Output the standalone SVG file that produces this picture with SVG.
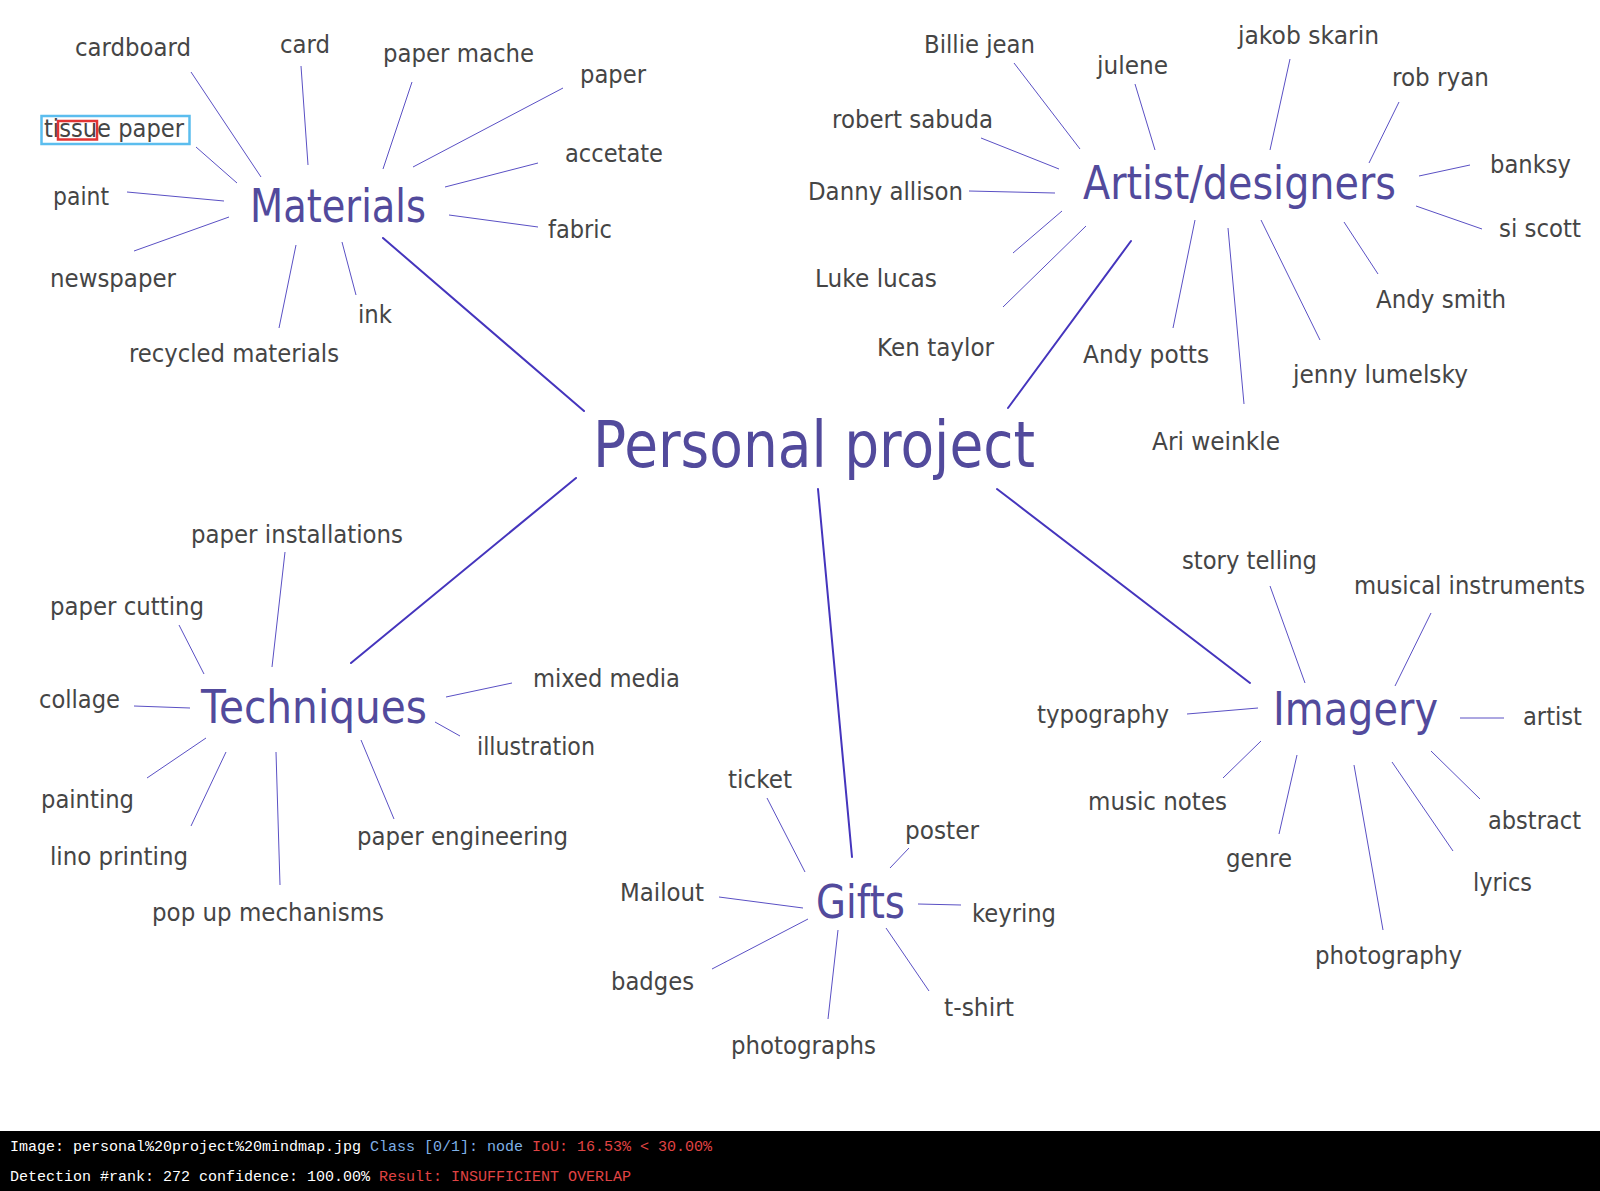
<svg xmlns="http://www.w3.org/2000/svg" width="1600" height="1191" viewBox="0 0 1600 1191">
  <style>
    .lbl { font-family: "DejaVu Sans", "Liberation Sans", sans-serif; font-size: 24px; fill: #454545; }
    .hub { font-family: "DejaVu Sans", "Liberation Sans", sans-serif; font-size: 46px; fill: #524a9c; }
    .root { font-family: "DejaVu Sans", "Liberation Sans", sans-serif; font-size: 64px; fill: #524a9c; }
    .trunk line { stroke: #4535bd; stroke-width: 2; stroke-linecap: round; }
    .spoke line { stroke: #5a50c4; stroke-width: 1; }
    .mono { font-family: "Liberation Mono", "DejaVu Sans Mono", monospace; font-size: 15px; fill: #ffffff; }
  </style>
  <rect width="1600" height="1191" fill="#ffffff"/>

  <!-- connectors -->
  <g id="connectors">
    <g class="trunk">
      <line x1="383" y1="238" x2="584" y2="411"/>
      <line x1="1131" y1="241" x2="1008" y2="408"/>
      <line x1="576" y1="478" x2="351" y2="663"/>
      <line x1="818" y1="489" x2="852" y2="857"/>
      <line x1="997" y1="489" x2="1250" y2="683"/>
    </g>
    <g class="spoke">
      <!-- Materials -->
      <line x1="191" y1="72" x2="261" y2="177"/>
      <line x1="301" y1="66" x2="308" y2="165"/>
      <line x1="412" y1="82" x2="383" y2="169"/>
      <line x1="563" y1="88" x2="413" y2="167"/>
      <line x1="196" y1="147" x2="237" y2="183"/>
      <line x1="538" y1="163" x2="445" y2="187"/>
      <line x1="127" y1="192" x2="224" y2="201"/>
      <line x1="449" y1="215" x2="538" y2="227"/>
      <line x1="134" y1="251" x2="229" y2="217"/>
      <line x1="296" y1="245" x2="279" y2="328"/>
      <line x1="342" y1="242" x2="356" y2="295"/>
      <!-- Artist/designers -->
      <line x1="1014" y1="63" x2="1080" y2="149"/>
      <line x1="1135" y1="84" x2="1155" y2="150"/>
      <line x1="1290" y1="59" x2="1270" y2="150"/>
      <line x1="1399" y1="102" x2="1369" y2="163"/>
      <line x1="981" y1="138" x2="1059" y2="169"/>
      <line x1="1470" y1="165" x2="1419" y2="176"/>
      <line x1="969" y1="191" x2="1055" y2="193"/>
      <line x1="1416" y1="206" x2="1482" y2="229"/>
      <line x1="1062" y1="211" x2="1013" y2="253"/>
      <line x1="1086" y1="226" x2="1003" y2="307"/>
      <line x1="1195" y1="220" x2="1173" y2="328"/>
      <line x1="1228" y1="228" x2="1244" y2="404"/>
      <line x1="1261" y1="220" x2="1320" y2="340"/>
      <line x1="1344" y1="222" x2="1378" y2="274"/>
      <!-- Techniques -->
      <line x1="285" y1="552" x2="272" y2="667"/>
      <line x1="179" y1="625" x2="204" y2="674"/>
      <line x1="134" y1="706" x2="190" y2="708"/>
      <line x1="512" y1="683" x2="446" y2="697"/>
      <line x1="435" y1="722" x2="460" y2="736"/>
      <line x1="147" y1="778" x2="206" y2="738"/>
      <line x1="191" y1="826" x2="226" y2="752"/>
      <line x1="276" y1="752" x2="280" y2="885"/>
      <line x1="361" y1="740" x2="394" y2="819"/>
      <!-- Imagery -->
      <line x1="1270" y1="586" x2="1305" y2="683"/>
      <line x1="1431" y1="613" x2="1395" y2="686"/>
      <line x1="1187" y1="714" x2="1258" y2="708"/>
      <line x1="1460" y1="718" x2="1504" y2="718"/>
      <line x1="1261" y1="741" x2="1223" y2="778"/>
      <line x1="1297" y1="755" x2="1279" y2="834"/>
      <line x1="1354" y1="765" x2="1383" y2="930"/>
      <line x1="1392" y1="762" x2="1453" y2="851"/>
      <line x1="1431" y1="751" x2="1480" y2="799"/>
      <!-- Gifts -->
      <line x1="767" y1="798" x2="805" y2="872"/>
      <line x1="909" y1="848" x2="890" y2="868"/>
      <line x1="719" y1="897" x2="803" y2="908"/>
      <line x1="918" y1="904" x2="961" y2="905"/>
      <line x1="712" y1="969" x2="808" y2="919"/>
      <line x1="838" y1="930" x2="828" y2="1019"/>
      <line x1="886" y1="928" x2="929" y2="991"/>
    </g>
  </g>

  <!-- root -->
  <g id="personal-project"><text class="root" x="593" y="467" textLength="442" lengthAdjust="spacingAndGlyphs">Personal project</text></g>

  <!-- Materials branch -->
  <g id="materials"><text class="hub" x="250" y="222" textLength="176" lengthAdjust="spacingAndGlyphs">Materials</text></g>
  <g id="cardboard"><text class="lbl" x="75" y="56" textLength="116" lengthAdjust="spacingAndGlyphs">cardboard</text></g>
  <g id="card"><text class="lbl" x="280" y="53" textLength="50" lengthAdjust="spacingAndGlyphs">card</text></g>
  <g id="paper-mache"><text class="lbl" x="383" y="62" textLength="151" lengthAdjust="spacingAndGlyphs">paper mache</text></g>
  <g id="paper"><text class="lbl" x="580" y="83" textLength="66" lengthAdjust="spacingAndGlyphs">paper</text></g>
  <g id="tissue-paper"><text class="lbl" x="44" y="137" textLength="140" lengthAdjust="spacingAndGlyphs">tissue paper</text></g>
  <g id="accetate"><text class="lbl" x="565" y="162" textLength="98" lengthAdjust="spacingAndGlyphs">accetate</text></g>
  <g id="paint"><text class="lbl" x="53" y="205" textLength="56" lengthAdjust="spacingAndGlyphs">paint</text></g>
  <g id="fabric"><text class="lbl" x="548" y="238" textLength="64" lengthAdjust="spacingAndGlyphs">fabric</text></g>
  <g id="newspaper"><text class="lbl" x="50" y="287" textLength="126" lengthAdjust="spacingAndGlyphs">newspaper</text></g>
  <g id="ink"><text class="lbl" x="358" y="323" textLength="34" lengthAdjust="spacingAndGlyphs">ink</text></g>
  <g id="recycled-materials"><text class="lbl" x="129" y="362" textLength="210" lengthAdjust="spacingAndGlyphs">recycled materials</text></g>

  <!-- Artist/designers branch -->
  <g id="artist-designers"><text class="hub" x="1083" y="199" textLength="313" lengthAdjust="spacingAndGlyphs">Artist/designers</text></g>
  <g id="billie-jean"><text class="lbl" x="924" y="53" textLength="111" lengthAdjust="spacingAndGlyphs">Billie jean</text></g>
  <g id="julene"><text class="lbl" x="1097" y="74" textLength="71" lengthAdjust="spacingAndGlyphs">julene</text></g>
  <g id="jakob-skarin"><text class="lbl" x="1238" y="44" textLength="141" lengthAdjust="spacingAndGlyphs">jakob skarin</text></g>
  <g id="rob-ryan"><text class="lbl" x="1392" y="86" textLength="97" lengthAdjust="spacingAndGlyphs">rob ryan</text></g>
  <g id="robert-sabuda"><text class="lbl" x="832" y="128" textLength="161" lengthAdjust="spacingAndGlyphs">robert sabuda</text></g>
  <g id="banksy"><text class="lbl" x="1490" y="173" textLength="81" lengthAdjust="spacingAndGlyphs">banksy</text></g>
  <g id="danny-allison"><text class="lbl" x="808" y="200" textLength="155" lengthAdjust="spacingAndGlyphs">Danny allison</text></g>
  <g id="si-scott"><text class="lbl" x="1499" y="237" textLength="82" lengthAdjust="spacingAndGlyphs">si scott</text></g>
  <g id="luke-lucas"><text class="lbl" x="815" y="287" textLength="122" lengthAdjust="spacingAndGlyphs">Luke lucas</text></g>
  <g id="andy-smith"><text class="lbl" x="1376" y="308" textLength="130" lengthAdjust="spacingAndGlyphs">Andy smith</text></g>
  <g id="ken-taylor"><text class="lbl" x="877" y="356" textLength="117" lengthAdjust="spacingAndGlyphs">Ken taylor</text></g>
  <g id="andy-potts"><text class="lbl" x="1083" y="363" textLength="126" lengthAdjust="spacingAndGlyphs">Andy potts</text></g>
  <g id="jenny-lumelsky"><text class="lbl" x="1293" y="383" textLength="175" lengthAdjust="spacingAndGlyphs">jenny lumelsky</text></g>
  <g id="ari-weinkle"><text class="lbl" x="1152" y="450" textLength="128" lengthAdjust="spacingAndGlyphs">Ari weinkle</text></g>

  <!-- Techniques branch -->
  <g id="techniques"><text class="hub" x="201" y="723" textLength="226" lengthAdjust="spacingAndGlyphs">Techniques</text></g>
  <g id="paper-installations"><text class="lbl" x="191" y="543" textLength="212" lengthAdjust="spacingAndGlyphs">paper installations</text></g>
  <g id="paper-cutting"><text class="lbl" x="50" y="615" textLength="154" lengthAdjust="spacingAndGlyphs">paper cutting</text></g>
  <g id="collage"><text class="lbl" x="39" y="708" textLength="81" lengthAdjust="spacingAndGlyphs">collage</text></g>
  <g id="mixed-media"><text class="lbl" x="533" y="687" textLength="147" lengthAdjust="spacingAndGlyphs">mixed media</text></g>
  <g id="illustration"><text class="lbl" x="477" y="755" textLength="118" lengthAdjust="spacingAndGlyphs">illustration</text></g>
  <g id="painting"><text class="lbl" x="41" y="808" textLength="93" lengthAdjust="spacingAndGlyphs">painting</text></g>
  <g id="paper-engineering"><text class="lbl" x="357" y="845" textLength="211" lengthAdjust="spacingAndGlyphs">paper engineering</text></g>
  <g id="lino-printing"><text class="lbl" x="50" y="865" textLength="138" lengthAdjust="spacingAndGlyphs">lino printing</text></g>
  <g id="pop-up-mechanisms"><text class="lbl" x="152" y="921" textLength="232" lengthAdjust="spacingAndGlyphs">pop up mechanisms</text></g>

  <!-- Imagery branch -->
  <g id="imagery"><text class="hub" x="1273" y="725" textLength="165" lengthAdjust="spacingAndGlyphs">Imagery</text></g>
  <g id="story-telling"><text class="lbl" x="1182" y="569" textLength="135" lengthAdjust="spacingAndGlyphs">story telling</text></g>
  <g id="musical-instruments"><text class="lbl" x="1354" y="594" textLength="231" lengthAdjust="spacingAndGlyphs">musical instruments</text></g>
  <g id="typography"><text class="lbl" x="1037" y="723" textLength="132" lengthAdjust="spacingAndGlyphs">typography</text></g>
  <g id="artist"><text class="lbl" x="1523" y="725" textLength="59" lengthAdjust="spacingAndGlyphs">artist</text></g>
  <g id="music-notes"><text class="lbl" x="1088" y="810" textLength="139" lengthAdjust="spacingAndGlyphs">music notes</text></g>
  <g id="abstract"><text class="lbl" x="1488" y="829" textLength="93" lengthAdjust="spacingAndGlyphs">abstract</text></g>
  <g id="genre"><text class="lbl" x="1226" y="867" textLength="66" lengthAdjust="spacingAndGlyphs">genre</text></g>
  <g id="lyrics"><text class="lbl" x="1473" y="891" textLength="59" lengthAdjust="spacingAndGlyphs">lyrics</text></g>
  <g id="photography"><text class="lbl" x="1315" y="964" textLength="147" lengthAdjust="spacingAndGlyphs">photography</text></g>

  <!-- Gifts branch -->
  <g id="gifts"><text class="hub" x="816" y="918" textLength="89" lengthAdjust="spacingAndGlyphs">Gifts</text></g>
  <g id="ticket"><text class="lbl" x="728" y="788" textLength="64" lengthAdjust="spacingAndGlyphs">ticket</text></g>
  <g id="poster"><text class="lbl" x="905" y="839" textLength="74" lengthAdjust="spacingAndGlyphs">poster</text></g>
  <g id="mailout"><text class="lbl" x="620" y="901" textLength="84" lengthAdjust="spacingAndGlyphs">Mailout</text></g>
  <g id="keyring"><text class="lbl" x="972" y="922" textLength="84" lengthAdjust="spacingAndGlyphs">keyring</text></g>
  <g id="badges"><text class="lbl" x="611" y="990" textLength="83" lengthAdjust="spacingAndGlyphs">badges</text></g>
  <g id="t-shirt"><text class="lbl" x="944" y="1016" textLength="70" lengthAdjust="spacingAndGlyphs">t-shirt</text></g>
  <g id="photographs"><text class="lbl" x="731" y="1054" textLength="145" lengthAdjust="spacingAndGlyphs">photographs</text></g>

  <!-- detection boxes around "tissue paper" -->
  <rect x="41.5" y="116" width="148" height="28" fill="none" stroke="#5bbdee" stroke-width="2.5"/>
  <rect x="58" y="121" width="39" height="18.5" fill="none" stroke="#e23434" stroke-width="2.5"/>

  <!-- status bar -->
  <rect x="0" y="1131" width="1600" height="60" fill="#000000"/>
  <text class="mono" x="10" y="1151"><tspan>Image: personal%20project%20mindmap.jpg </tspan><tspan fill="#7fb0e6">Class [0/1]: node </tspan><tspan fill="#e04444">IoU: 16.53% &lt; 30.00%</tspan></text>
  <text class="mono" x="10" y="1181"><tspan>Detection #rank: 272 confidence: 100.00% </tspan><tspan fill="#e04444">Result: INSUFFICIENT OVERLAP</tspan></text>
</svg>
